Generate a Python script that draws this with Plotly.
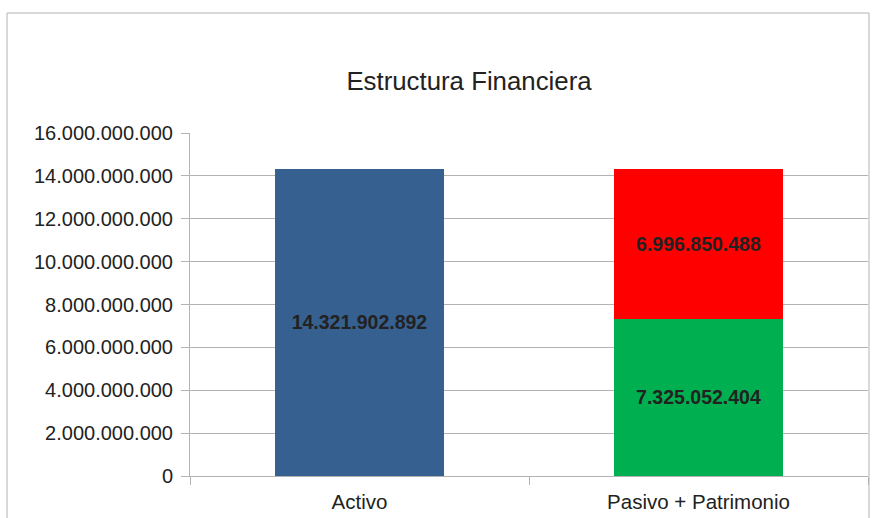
import plotly.graph_objects as go

categories = ["Activo", "Pasivo + Patrimonio"]
activo = [14321902892, None]
patrimonio = [None, 7325052404]
pasivo = [None, 6996850488]
tick_vals = [0, 2e9, 4e9, 6e9, 8e9, 10e9, 12e9, 14e9, 16e9]
tick_text = ["0", "2.000.000.000", "4.000.000.000", "6.000.000.000", "8.000.000.000",
             "10.000.000.000", "12.000.000.000", "14.000.000.000", "16.000.000.000"]


def fmt(v):
    return "" if v is None else f"{v:,}".replace(",", ".")


FONT = "Liberation Sans, Arial, sans-serif"
GRID = "#b3b3b3"

fig = go.Figure()
for vals, color in [(activo, "#36608F"), (patrimonio, "#00B050"), (pasivo, "#FF0000")]:
    fig.add_trace(go.Bar(
        x=categories, y=vals, marker=dict(color=color, line=dict(width=0)),
        text=[fmt(v) for v in vals], textposition="inside", insidetextanchor="middle",
        textangle=0, constraintext="none",
        textfont=dict(family=FONT, size=19.5, color="#222222", weight="bold"),
        hoverinfo="skip", showlegend=False,
    ))

fig.update_layout(
    barmode="stack", bargap=0.5,
    width=876, height=518,
    margin=dict(l=190, r=8, t=133, b=42),
    paper_bgcolor="white", plot_bgcolor="white",
    font=dict(family=FONT, color="#222222"),
    title=dict(text="Estructura Financiera", x=469 / 876, y=1 - 81 / 518,
               xanchor="center", yanchor="middle", xref="container", yref="container",
               font=dict(family=FONT, size=25.8, color="#222222")),
    shapes=[dict(type="rect", xref="paper", yref="paper",
                 x0=(7 - 190) / 678, x1=(869 - 190) / 678,
                 y0=(476 - 530) / 343, y1=(476 - 13) / 343,
                 line=dict(color="#b3b3b3", width=1), layer="below")],
)
fig.update_yaxes(range=[0, 16e9], tickvals=tick_vals, ticktext=tick_text,
                 showgrid=True, gridcolor=GRID, gridwidth=1,
                 showline=True, linecolor=GRID, linewidth=1, automargin=False,
                 ticks="outside", ticklen=8, tickcolor=GRID, ticklabelstandoff=4,
                 tickfont=dict(family=FONT, size=20, color="#222222"), zeroline=False)
fig.update_xaxes(showline=True, linecolor=GRID, linewidth=1, automargin=False,
                 ticks="outside", ticklen=8, tickcolor=GRID, tickson="boundaries",
                 ticklabelstandoff=7,
                 tickfont=dict(family=FONT, size=20.5, color="#222222"))

fig.write_html("out.html")
